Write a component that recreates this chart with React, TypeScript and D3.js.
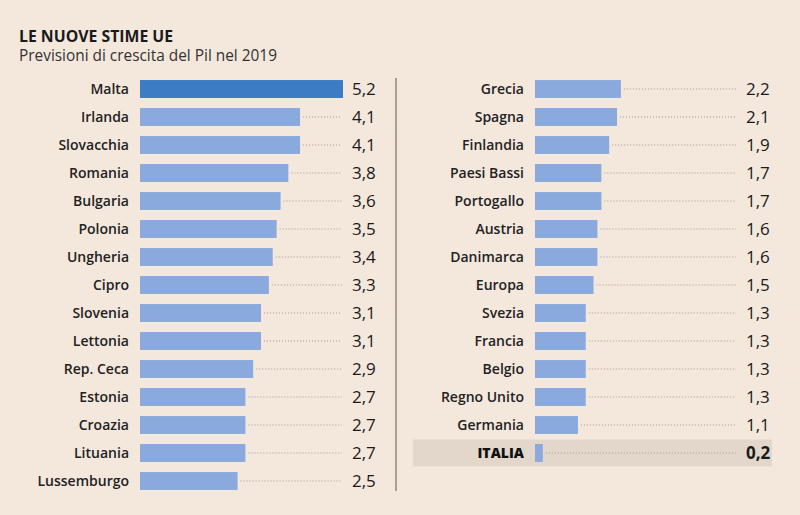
import React from "react";
import * as d3 from "d3";

const leftNames = ["Malta","Irlanda","Slovacchia","Romania","Bulgaria","Polonia","Ungheria","Cipro","Slovenia","Lettonia","Rep. Ceca","Estonia","Croazia","Lituania","Lussemburgo"];
const leftValues = [5.2,4.1,4.1,3.8,3.6,3.5,3.4,3.3,3.1,3.1,2.9,2.7,2.7,2.7,2.5];
const rightNames = ["Grecia","Spagna","Finlandia","Paesi Bassi","Portogallo","Austria","Danimarca","Europa","Svezia","Francia","Belgio","Regno Unito","Germania","ITALIA"];
const rightValues = [2.2,2.1,1.9,1.7,1.7,1.6,1.6,1.5,1.3,1.3,1.3,1.3,1.1,0.2];

const W = 800, H = 515;
const FONT = "'Open Sans', 'DejaVu Sans', sans-serif";

function Column({ names, values, x0, dotEnd, valueX, highlightFirst }: { names: string[]; values: number[]; x0: number; dotEnd: number; valueX: number; highlightFirst?: boolean }) {
  const x = d3.scaleLinear().domain([0, 5.2]).range([x0, x0 + 203]);
  const y = d3.scaleBand<string>().domain(d3.range(15).map(String)).range([75, 495]).paddingInner(0.36).paddingOuter(0.18);
  const fmt = (v: number) => d3.format(".1f")(v).replace(".", ",");
  return (
    <g>
      {names.map((n, i) => {
        const yy = y(String(i))!;
        const bh = y.bandwidth();
        const cy = yy + bh / 2;
        const isItaly = n === "ITALIA";
        const xe = x(values[i]);
        return (
          <g key={n}>
            {isItaly && <rect x={413} y={cy - 13.5} width={359} height={27} fill="#e3d7cb" />}
            <text x={x0 - 11} y={cy} dy="0.35em" textAnchor="end" fontFamily={FONT} fontSize={14} fontWeight={isItaly ? 800 : 600} fill={isItaly ? "#111" : "#222"}>{n}</text>
            <rect x={x0} y={yy} width={xe - x0} height={bh} fill={highlightFirst && i === 0 ? "#3c7cc5" : "#8aa9dc"} />
            {xe + 4 < dotEnd && <line x1={xe + 3} x2={dotEnd} y1={cy} y2={cy} stroke="#a09a94" strokeWidth={1} strokeDasharray="1,2" />}
            <text x={valueX} y={cy} dy="0.36em" fontFamily={FONT} fontSize={17} fontWeight={isItaly ? 700 : 400} fill="#1a1a1a">{fmt(values[i])}</text>
          </g>
        );
      })}
    </g>
  );
}

export default function App() {
  return (
    <svg width={W} height={H} style={{ position: "absolute", left: 0, top: 0, background: "#f4e8dd" }}>
      <rect width={W} height={H} fill="#f4e8dd" />
      <text x={19} y={42} fontFamily={FONT} fontSize={15.8} fontWeight={700} fill="#1a1a1a">LE NUOVE STIME UE</text>
      <text x={19} y={61} fontFamily={FONT} fontSize={15.4} fontWeight={400} fill="#333">Previsioni di crescita del Pil nel 2019</text>
      <line x1={396} x2={396} y1={78} y2={491} stroke="#555" strokeWidth={1} />
      <Column names={leftNames} values={leftValues} x0={140} dotEnd={342} valueX={352} highlightFirst />
      <Column names={rightNames} values={rightValues} x0={535} dotEnd={736} valueX={746} />
    </svg>
  );
}
